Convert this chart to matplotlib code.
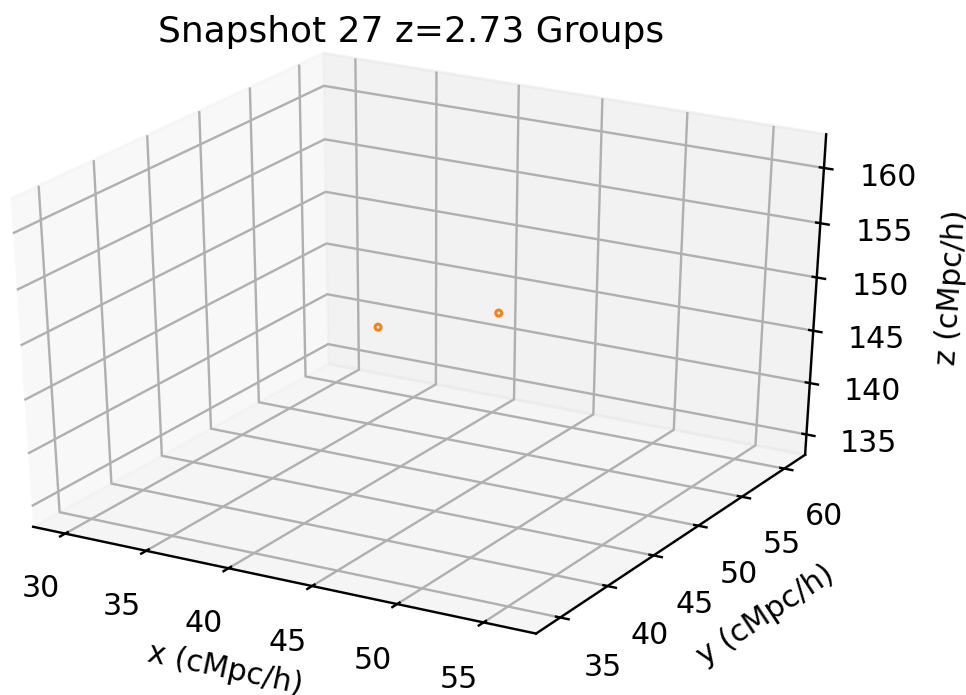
import numpy as np
import matplotlib
matplotlib.use("Agg")
import matplotlib.pyplot as plt

# group centres (cMpc/h)
gx = [41.8, 45.75]
gy = [44.7, 50.3]
gz = [149.55, 149.2]

xlim = [28, 58]
ylim = [32.5, 62.5]
zlim = [133, 163]

fig = plt.figure(figsize=(966 / 216, 695 / 216), dpi=216)
ax = fig.add_subplot(projection="3d")
ax.set_box_aspect((1, 1, 1))
# let the 3d box stretch to fill the axes rectangle (old-style look)
ax.apply_aspect = lambda position=None: None
ax.set_position([-0.0782, 0.0568, 1.0104, 0.905])
ax.scatter(gx, gy, gz, s=4, facecolors="none", edgecolors="C1",
           linewidths=1.0, depthshade=False)
ax.set_xlim(xlim)
ax.set_ylim(ylim)
ax.set_zlim(zlim)
ax.set_xlabel("x (cMpc/h)")
ax.set_ylabel("y (cMpc/h)")
ax.set_zlabel("z (cMpc/h)")
fig.text(411 / 966, (695 - 42) / 695, "Snapshot 27 z=2.73 Groups",
         fontsize=12, ha="center", va="baseline")
fig.savefig("out.png", dpi=216)
